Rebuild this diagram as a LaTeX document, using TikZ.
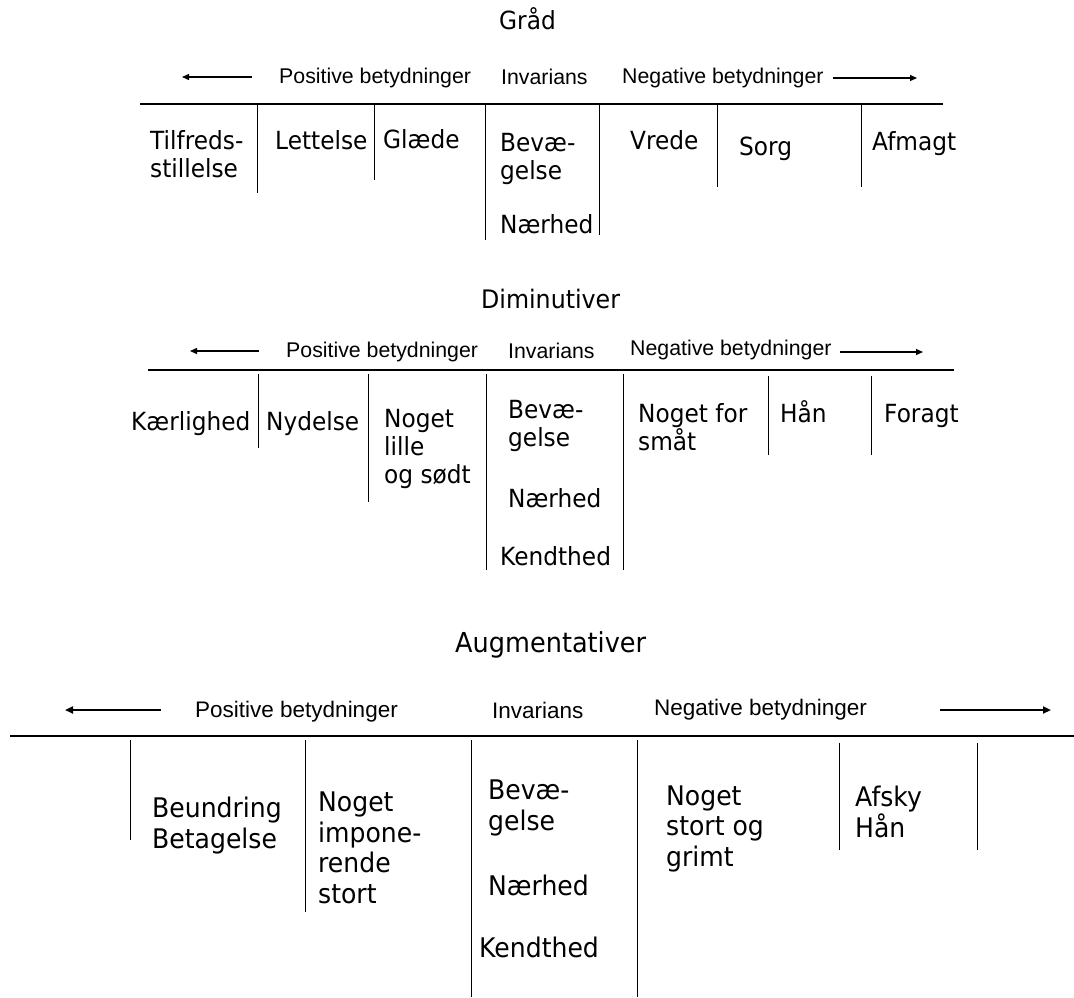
\documentclass[tikz,border=0pt]{standalone}
\usepackage{fontspec}
\usetikzlibrary{arrows.meta}
\newfontfamily\labfont[FakeStretch=0.93]{DejaVu Sans}
\newfontfamily\hdfont{Liberation Sans}
\tikzset{
  lab/.style={anchor=base west, inner sep=0pt, align=left, font=\labfont\fontsize{25}{28}\selectfont},
  labstor/.style={lab, font=\labfont\fontsize{27}{30.5}\selectfont},
  hd/.style={anchor=base west, inner sep=0pt, font=\hdfont\fontsize{21.3}{24}\selectfont},
  hdstor/.style={hd, font=\hdfont\fontsize{22.5}{25}\selectfont},
  titel/.style={anchor=base west, inner sep=0pt},
  pil/.style={-{Triangle[length=7pt,width=6pt]}, line width=1.3pt},
  pilstor/.style={-{Triangle[length=8pt,width=7pt]}, line width=2pt},
}
\begin{document}
\begin{tikzpicture}[x=1pt,y=-1pt]
    \useasboundingbox (0,0) rectangle (1074,997);

    % Graad
    \node[titel, font=\labfont\fontsize{25}{28}\selectfont] (graad) at (499,29) {Gråd};
    \draw[pil] (252,77) -- (182,77);
    \draw[pil] (833,78) -- (917,78);
    \node[hd] (g-pos) at (279,83) {Positive betydninger};
    \node[hd] (g-inv) at (501,84) {Invarians};
    \node[hd] (g-neg) at (622,83) {Negative betydninger};
    \draw[line width=1.3pt] (140,104) -- (943,104);  % Akse
    \draw (257,104) -- (257,193);
    \draw (374,104) -- (374,180);
    \draw (485,104) -- (485,240);
    \draw (599,104) -- (599,235);
    \draw (717,104) -- (717,187);
    \draw (861,104) -- (861,187);
    % (base = sidste linje)
    \node[lab] (g-tilf) at (150,177) {Tilfreds-\\stillelse};
    \node[lab] (g-lett) at (275,149) {Lettelse};
    \node[lab] (g-glae) at (383,148) {Glæde};
    \node[lab] (g-bev) at (500,179) {Bevæ-\\gelse};
    \node[lab] (g-naer) at (500,233) {Nærhed};
    \node[lab] (g-vred) at (630,149) {Vrede};
    \node[lab] (g-sorg) at (739,155) {Sorg};
    \node[lab] (g-afm) at (872,150) {Afmagt};

    % Diminutiver
    \node[titel, font=\labfont\fontsize{25.5}{28}\selectfont] (dimi) at (481,308) {Diminutiver};
    \draw[pil] (259,351) -- (190,351);
    \draw[pil] (840,352) -- (923,352);
    \node[hd] (d-pos) at (286,357) {Positive betydninger};
    \node[hd] (d-inv) at (508,358) {Invarians};
    \node[hd] (d-neg) at (630,355) {Negative betydninger};
    \draw[line width=1.3pt] (148,370) -- (954,370);  % Akse
    \draw (258,374) -- (258,448);
    \draw (368,374) -- (368,502);
    \draw (486,374) -- (486,570);
    \draw (623,374) -- (623,570);
    \draw (768,376) -- (768,455);
    \draw (871,376) -- (871,455);
    \node[lab] (d-kaer) at (131,430) {Kærlighed};
    \node[lab] (d-nyd) at (266,430) {Nydelse};
    \node[lab] (d-lille) at (384,483) {Noget\\lille\\og sødt};
    \node[lab] (d-bev) at (508,446) {Bevæ-\\gelse};
    \node[lab] (d-naer) at (508,507) {Nærhed};
    \node[lab] (d-kend) at (500,565) {Kendthed};
    \node[lab] (d-smaa) at (638,450) {Noget for\\småt};
    \node[lab] (d-haan) at (780,422) {Hån};
    \node[lab] (d-forg) at (884,422) {Foragt};

    % Augmentativer
    \node[titel, font=\labfont\fontsize{27.5}{30}\selectfont] (augm) at (455,652) {Augmentativer};
    \draw[pilstor] (161,710) -- (65,710);
    \draw[pilstor] (940,710) -- (1051,710);
    \node[hdstor] (a-pos) at (195,717) {Positive betydninger};
    \node[hdstor] (a-inv) at (492,718) {Invarians};
    \node[hdstor] (a-neg) at (654,715) {Negative betydninger};
    \draw[line width=2pt] (10,736) -- (1074,736);  % Akse
    \draw (130,740) -- (130,840);
    \draw (305,740) -- (305,912);
    \draw (471,740) -- (471,997);
    \draw (637,740) -- (637,997);
    \draw (839,743) -- (839,850);
    \draw (977,743) -- (977,850);
    \node[labstor] (a-beun) at (152,848) {Beundring\\Betagelse};
    \node[labstor] (a-imp) at (318,903) {Noget\\impone-\\rende\\stort};
    \node[labstor] (a-bev) at (488,830) {Bevæ-\\gelse};
    \node[labstor] (a-naer) at (488,895) {Nærhed};
    \node[labstor] (a-kend) at (479,957) {Kendthed};
    \node[labstor] (a-grim) at (666,866) {Noget\\stort og\\grimt};
    \node[labstor] (a-afsk) at (855,837) {Afsky\\Hån};
\end{tikzpicture}
\end{document}
